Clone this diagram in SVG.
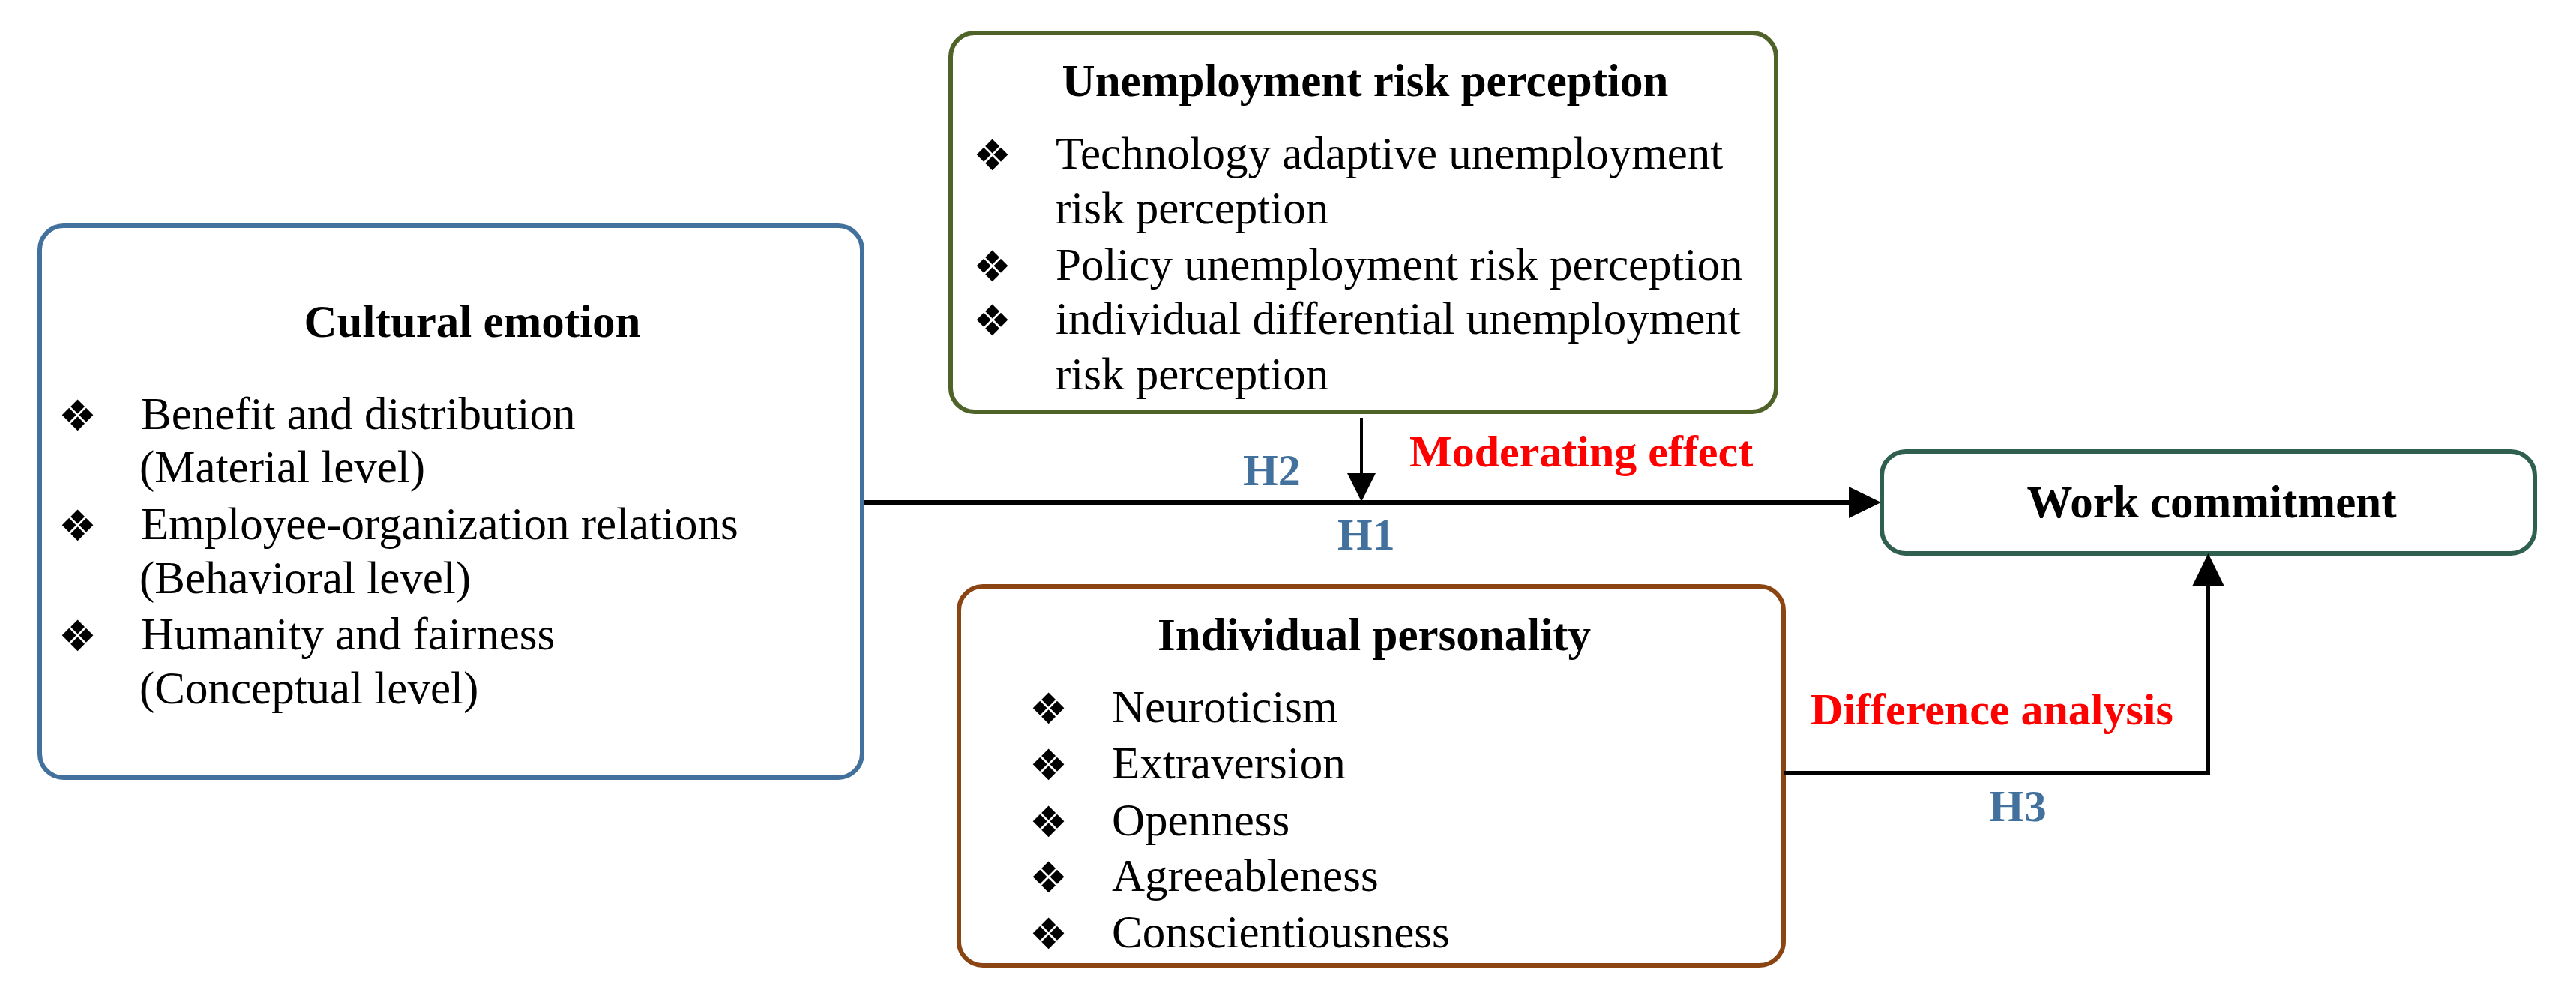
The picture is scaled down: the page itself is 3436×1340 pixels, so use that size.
<svg xmlns="http://www.w3.org/2000/svg" width="3436" height="1340" viewBox="0 0 3436 1340">
<style>
  .box { fill: #ffffff; stroke-width: 6; }
  .title { font-family: "Liberation Serif", "Times New Roman", serif; font-size: 61px; font-weight: bold; fill: #000000; text-anchor: middle; }
  .item { font-family: "Liberation Serif", "Times New Roman", serif; font-size: 61px; fill: #000000; }
  .bul { font-family: "DejaVu Sans", sans-serif; font-size: 57px; fill: #000000; }
  .hlab { font-family: "Liberation Serif", "Times New Roman", serif; font-size: 60px; font-weight: bold; fill: #41719C; }
  .red { font-family: "Liberation Serif", "Times New Roman", serif; font-size: 60px; font-weight: bold; fill: #FF0000; }
  .conn { stroke: #000000; fill: none; }
  .head { fill: #000000; stroke: none; }
</style>
<rect width="3436" height="1340" fill="#ffffff"/>

<g id="cultural-emotion">
  <rect class="box" x="53" y="301" width="1097" height="736" rx="32" ry="32" stroke="#41719C"/>
  <text class="title" x="630" y="449">Cultural emotion</text>
  <text class="bul" x="78" y="574">❖</text>
  <text class="item" x="188" y="572">Benefit and distribution</text>
  <text class="item" x="186" y="643">(Material level)</text>
  <text class="bul" x="78" y="721">❖</text>
  <text class="item" x="188" y="719">Employee-organization relations</text>
  <text class="item" x="186" y="791">(Behavioral level)</text>
  <text class="bul" x="78" y="868">❖</text>
  <text class="item" x="188" y="866">Humanity and fairness</text>
  <text class="item" x="186" y="938">(Conceptual level)</text>
</g>

<g id="unemployment-risk-perception">
  <rect class="box" x="1268" y="44" width="1101" height="505" rx="32" ry="32" stroke="#4F6228"/>
  <text class="title" x="1821" y="128">Unemployment risk perception</text>
  <text class="bul" x="1298" y="227">❖</text>
  <text class="item" x="1408" y="225">Technology adaptive unemployment</text>
  <text class="item" x="1408" y="298">risk perception</text>
  <text class="bul" x="1298" y="375">❖</text>
  <text class="item" x="1408" y="373">Policy unemployment risk perception</text>
  <text class="bul" x="1298" y="447">❖</text>
  <text class="item" x="1408" y="445">individual differential unemployment</text>
  <text class="item" x="1408" y="519">risk perception</text>
</g>

<g id="individual-personality">
  <rect class="box" x="1279" y="782" width="1100" height="505" rx="32" ry="32" stroke="#8B4513"/>
  <text class="title" x="1833" y="867">Individual personality</text>
  <text class="bul" x="1373" y="965">❖</text>
  <text class="item" x="1483" y="963">Neuroticism</text>
  <text class="bul" x="1373" y="1040">❖</text>
  <text class="item" x="1483" y="1038">Extraversion</text>
  <text class="bul" x="1373" y="1116">❖</text>
  <text class="item" x="1483" y="1114">Openness</text>
  <text class="bul" x="1373" y="1190">❖</text>
  <text class="item" x="1483" y="1188">Agreeableness</text>
  <text class="bul" x="1373" y="1265">❖</text>
  <text class="item" x="1483" y="1263">Conscientiousness</text>
</g>

<g id="work-commitment">
  <rect class="box" x="2510" y="602" width="871" height="136" rx="32" ry="32" stroke="#2F5F4F"/>
  <text class="title" x="2950" y="690">Work commitment</text>
</g>

<g id="connectors">
  <!-- H1 -->
  <line class="conn" x1="1153" y1="670" x2="2468" y2="670" stroke-width="6"/>
  <polygon class="head" points="2466,649 2509,670 2466,691"/>
  <!-- H2 -->
  <line class="conn" x1="1816" y1="557" x2="1816" y2="633" stroke-width="4"/>
  <polygon class="head" points="1797,631 1835,631 1816,669"/>
  <!-- H3 -->
  <polyline class="conn" points="2379,1031 2945,1031 2945,780" stroke-width="6"/>
  <polygon class="head" points="2924,782 2967,782 2945.5,738"/>
  <text class="hlab" x="1658" y="647">H2</text>
  <text class="hlab" x="1784" y="733">H1</text>
  <text class="red" x="1880" y="622">Moderating effect</text>
  <text class="red" x="2415" y="966">Difference analysis</text>
  <text class="hlab" x="2653" y="1095">H3</text>
</g>
</svg>
